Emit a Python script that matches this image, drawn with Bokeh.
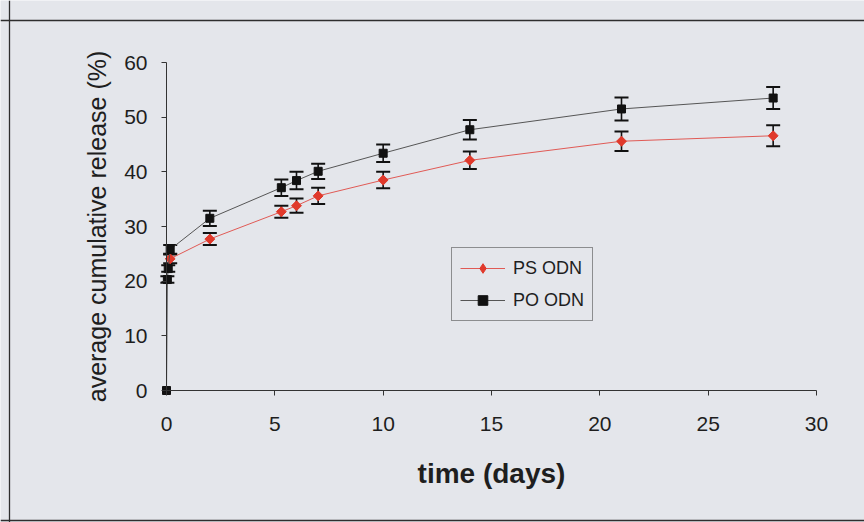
import numpy as np
from bokeh.plotting import figure
from bokeh.models import (Range1d, LinearAxis, FixedTicker, Whisker, TeeHead,
                          ColumnDataSource, Legend, LegendItem, Grid, Span)
from bokeh.embed import file_html
from bokeh.resources import INLINE

# Release time points (days), mean cumulative release (%) and error
ps_days = [0.17, 2, 5.3, 6, 7, 10, 14, 21, 28]
ps_release = [24.1, 27.7, 32.7, 33.8, 35.6, 38.5, 42.1, 45.6, 46.6]
ps_err = [0.8, 1.1, 1.1, 1.3, 1.5, 1.5, 1.6, 1.8, 1.9]

po_days = [0, 0.04, 0.08, 0.17, 2, 5.3, 6, 7, 10, 14, 21, 28]
po_release = [0, 20.3, 22.3, 25.8, 31.5, 37.1, 38.4, 40.1, 43.4, 47.7, 51.5, 53.5]
po_err = [0, 0.6, 0.6, 0.8, 1.4, 1.5, 1.6, 1.4, 1.6, 1.8, 2.1, 2.0]

x_ticks = [0, 5, 10, 15, 20, 25, 30]
y_ticks = [0, 10, 20, 30, 40, 50, 60]

PAGE = "#e4e6eb"
INK = "#1e1e1e"
FONT = "Liberation Sans"

W, H = 864, 522
# axis origin in pixels and data scale
origin_x, origin_y = 166, 390
px_per_day = 650 / 30
px_per_pct = 328 / 60

x_range = Range1d(-origin_x / px_per_day, (W - origin_x) / px_per_day)
y_range = Range1d(-(H - origin_y) / px_per_pct, origin_y / px_per_pct)

p = figure(width=W, height=H, x_range=x_range, y_range=y_range,
           output_backend="svg", toolbar_location=None,
           x_axis_location=None, y_axis_location=None,
           min_border=0)
p.center = [r for r in p.center if not isinstance(r, Grid)]
p.background_fill_color = PAGE
p.border_fill_color = PAGE
p.outline_line_color = None


# chart-area border: left, top and bottom edges
def px_to_x(px):
    return (px - origin_x) / px_per_day


def px_to_y(py):
    return (origin_y - py) / px_per_pct


for loc, dim in ((px_to_x(9), "height"), (px_to_y(20), "width"), (px_to_y(520), "width")):
    p.add_layout(Span(location=loc, dimension=dim, line_color="#2e2e2e", line_width=1.3))


def style_axis(ax):
    ax.axis_line_color = "#333333"
    ax.major_tick_line_color = "#333333"
    ax.minor_tick_line_color = None
    ax.major_tick_in = 0
    ax.major_tick_out = 5
    ax.major_label_text_font = FONT
    ax.major_label_text_font_size = "21px"
    ax.major_label_text_color = INK
    ax.axis_label_text_font = FONT
    ax.axis_label_text_color = INK
    ax.axis_label_text_font_style = "normal"


xaxis = LinearAxis(fixed_location=0, bounds=(0, 30), ticker=FixedTicker(ticks=x_ticks),
                   axis_label="time (days)")
style_axis(xaxis)
xaxis.major_label_standoff = 21
xaxis.axis_label_text_font_size = "28px"
xaxis.axis_label_text_font_style = "bold"
xaxis.axis_label_standoff = 24
p.add_layout(xaxis, "below")

yaxis = LinearAxis(fixed_location=0, bounds=(0, 60), ticker=FixedTicker(ticks=y_ticks),
                   axis_label="average cumulative release (%)")
style_axis(yaxis)
yaxis.major_label_standoff = 14
yaxis.axis_label_text_font_size = "25px"
yaxis.axis_label_standoff = 10
p.add_layout(yaxis, "left")


def error_source(days, vals, errs):
    keep = [i for i, e in enumerate(errs) if e > 0]
    return ColumnDataSource(dict(
        t=[days[i] for i in keep],
        lo=[vals[i] - errs[i] for i in keep],
        hi=[vals[i] + errs[i] for i in keep],
    ))


for src in (error_source(ps_days, ps_release, ps_err),
            error_source(po_days, po_release, po_err)):
    w = Whisker(base="t", lower="lo", upper="hi", source=src, dimension="height",
                line_color="#111111", line_width=1.6,
                lower_head=TeeHead(size=14, line_color="#111111", line_width=2),
                upper_head=TeeHead(size=14, line_color="#111111", line_width=2))
    p.add_layout(w)

PS_RED = "#e0392b"
ps_line = p.line(ps_days, ps_release, line_color="#e05a55", line_width=1)
# diamond markers: a plain diamond (used as legend key) under a 45-degree square
ps_key = p.scatter(ps_days, ps_release, marker="diamond", size=9,
                   fill_color=PS_RED, line_color=PS_RED)
ps_pts = p.scatter(ps_days, ps_release, marker="square", angle=np.pi / 4, size=7,
                   fill_color=PS_RED, line_color=PS_RED)
po_line = p.line(po_days, po_release, line_color="#555555", line_width=1)
po_pts = p.scatter(po_days, po_release, marker="square", size=8,
                   fill_color="#111111", line_color="#111111")

legend = Legend(items=[LegendItem(label="PS ODN", renderers=[ps_line, ps_key]),
                       LegendItem(label="PO ODN", renderers=[po_line, po_pts])],
                location=(451, 201))
legend.border_line_color = "#333333"
legend.border_line_width = 1
legend.background_fill_color = PAGE
legend.background_fill_alpha = 1
legend.label_text_font = FONT
legend.label_text_font_size = "18px"
legend.label_text_color = INK
legend.glyph_width = 45
legend.glyph_height = 24
legend.label_height = 24
legend.label_standoff = 8
legend.spacing = 8
legend.padding = 8
legend.margin = 0
p.add_layout(legend)

open("out.html", "w").write(file_html(p, INLINE))
